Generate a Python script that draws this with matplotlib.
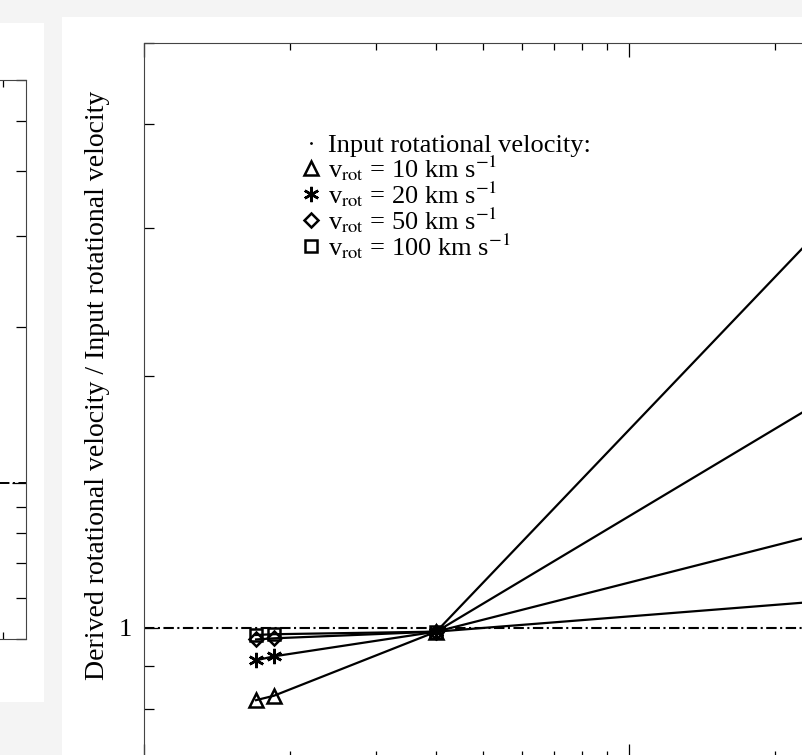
import numpy as np
import matplotlib.pyplot as plt
from matplotlib.lines import Line2D
from matplotlib.patches import Rectangle
from matplotlib.ticker import FormatStrFormatter, NullFormatter

plt.rcParams['font.family'] = ['Liberation Serif', 'DejaVu Serif']
plt.rcParams['mathtext.fontset'] = 'stix'
plt.rcParams['lines.scale_dashes'] = False

# x positions of the runs and derived / input velocity ratio per input speed
x_vals = [1.7, 1.85, 4.0, 40.0]
speeds = [10, 20, 50, 100]
ratio_10 = [0.82, 0.83, 0.99, 4.0]
ratio_20 = [0.915, 0.925, 0.99, 2.2]
ratio_50 = [0.969, 0.972, 0.99, 1.39]
ratio_100 = [0.981, 0.983, 0.99, 1.10]
ratios = [ratio_10, ratio_20, ratio_50, ratio_100]
markers = ['^', (6, 2, 0), 'D', 's']
msizes = [9.5, 11, 7.5, 9]

W, H = 803, 755
DASHDOT = [7.5, 2.5, 1.5, 2.5]


def box(left, top, right, bottom):
    # pixel box -> figure fraction rect
    return [left / W, 1 - bottom / H, (right - left) / W, (bottom - top) / H]


fig = plt.figure(figsize=(W / 100, H / 100), dpi=100, facecolor='#f4f4f4')
fig.add_artist(Rectangle((62 / W, 0), 1, (H - 17) / H, transform=fig.transFigure,
                         facecolor='white', edgecolor='none', zorder=0))
fig.add_artist(Rectangle((0, 1 - 702 / H), 44 / W, (702 - 23) / H, transform=fig.transFigure,
                         facecolor='white', edgecolor='none', zorder=0))


def style_axes(a):
    a.set_xscale('log')
    a.set_yscale('log')
    for s in a.spines.values():
        s.set_linewidth(0.8)
        s.set_color('#444444')
    a.tick_params(which='both', direction='in', top=True, right=True, width=0.9,
                  labelbottom=False)
    a.tick_params(axis='x', which='major', length=10)
    a.tick_params(axis='x', which='minor', length=5)
    a.tick_params(axis='y', which='major', length=10)
    a.tick_params(axis='y', which='minor', length=7.5)
    a.xaxis.set_minor_formatter(NullFormatter())
    a.yaxis.set_minor_formatter(NullFormatter())


# left neighbour panel (mostly outside the figure)
ax_l = fig.add_axes(box(-628, 80, 26, 639))
style_axes(ax_l)
ax_l.set_xlim(1, 22.3)
ax_l.set_ylim(0.5, 6)
ax_l.axhline(1, color='black', lw=1.4, dashes=DASHDOT)
ax_l.tick_params(labelleft=False)

# main panel
ax = fig.add_axes(box(144.3, 42.7, 968.3, 757.7))
style_axes(ax)
ax.set_xlim(1, 50)
ax.set_ylim(0.7, 5)
ax.yaxis.set_major_formatter(FormatStrFormatter('%g'))
ax.tick_params(axis='y', labelsize=19, pad=9)

ax.axhline(1, color='black', lw=1.5, dashes=DASHDOT)
for r, m, ms in zip(ratios, markers, msizes):
    ax.plot(x_vals, r, color='black', lw=1.6, marker=m, ms=ms,
            mfc='none', mec='black', mew=1.8)

fig.text(98 / W, 1 - 385 / H, 'Derived rotational velocity / Input rotational velocity',
         rotation=90, ha='center', va='center', fontsize=20)

handles = [Line2D([], [], ls='none', marker='.', ms=2, color='black')]
handles += [Line2D([], [], ls='none', marker=m, ms=ms, mfc='none', mec='black', mew=1.8)
            for m, ms in zip(markers, msizes)]
labels = ['Input rotational velocity:']
labels += [r'v$_{\rm rot}$ = %d km s$^{-1}$' % s for s in speeds]
ax.legend(handles, labels, loc='upper left', bbox_to_anchor=(302 / W, 1 - 134 / H),
          bbox_transform=fig.transFigure, frameon=False, fontsize=19,
          handlelength=0.7, handletextpad=0.3, labelspacing=-0.15,
          borderpad=0, borderaxespad=0)

fig.savefig('out.png', dpi=100, facecolor=fig.get_facecolor())
